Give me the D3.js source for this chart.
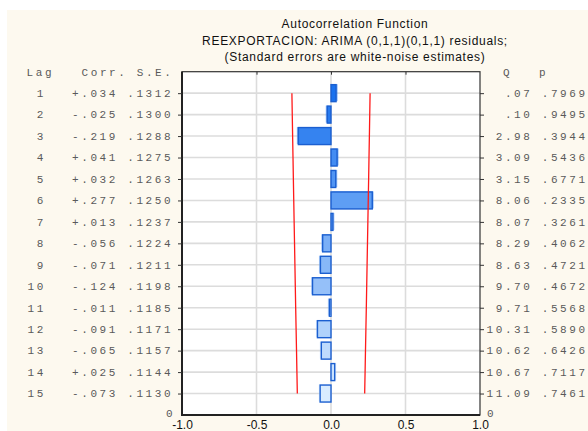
<!DOCTYPE html>
<html>
<head>
<meta charset="utf-8">
<script src="https://cdn.jsdelivr.net/npm/d3@7"></script>
<style>
  body { margin: 0; background: #fff; }
  svg text { white-space: pre; }
</style>
</head>
<body>
<div id="chart"></div>
<script>
// Autocorrelation table
const lags = [1, 2, 3, 4, 5, 6, 7, 8, 9, 10, 11, 12, 13, 14, 15];
const corr = [0.034, -0.025, -0.219, 0.041, 0.032, 0.277, 0.013, -0.056, -0.071, -0.124, -0.011, -0.091, -0.065, 0.025, -0.073];
const stdErr = [0.1312, 0.1300, 0.1288, 0.1275, 0.1263, 0.1250, 0.1237, 0.1224, 0.1211, 0.1198, 0.1185, 0.1171, 0.1157, 0.1144, 0.1130];
const qStat = [0.07, 0.10, 2.98, 3.09, 3.15, 8.06, 8.07, 8.29, 8.63, 9.70, 9.71, 10.31, 10.62, 10.67, 11.09];
const pValue = [0.7969, 0.9495, 0.3944, 0.5436, 0.6771, 0.2335, 0.3261, 0.4062, 0.4721, 0.4672, 0.5568, 0.5890, 0.6426, 0.7117, 0.7461];
const xTicks = [-1.0, -0.5, 0.0, 0.5, 1.0];
const titleLines = [
    "Autocorrelation Function",
    "REEXPORTACION: ARIMA (0,1,1)(0,1,1) residuals;",
    "(Standard errors are white-noise estimates)"
];

const width = 588, height = 431;
const plot = { left: 182, right: 480, top: 71.7, bottom: 415 };

const svg = d3.select("#chart").append("svg")
    .attr("width", width)
    .attr("height", height);

// cream panel
svg.append("rect")
    .attr("x", 7).attr("y", 10)
    .attr("width", width - 7).attr("height", height - 10)
    .attr("fill", "#fdf9ef");

const x = d3.scaleLinear().domain([-1, 1]).range([plot.left, plot.right]);
const y = d3.scaleLinear().domain([0, 16]).range([plot.top, plot.bottom]);
const barColor = d3.scaleLinear().domain([1, 15]).range(["#1a72ee", "#d9ecff"]);

// title
svg.append("g").selectAll("text")
    .data(titleLines)
    .enter().append("text")
    .attr("x", 355)
    .attr("y", (d, i) => 24 + i * 16.3)
    .attr("dy", "0.35em")
    .attr("text-anchor", "middle")
    .attr("font-family", "Liberation Sans, Arial, sans-serif")
    .attr("font-size", 12)
    .attr("letter-spacing", 0.7)
    .attr("fill", "#111")
    .text(d => d);

// plot background
svg.append("rect")
    .attr("x", plot.left).attr("y", plot.top)
    .attr("width", plot.right - plot.left).attr("height", plot.bottom - plot.top)
    .attr("fill", "#fff");

// grid
const grid = svg.append("g").attr("stroke", "#dcdcdc").attr("stroke-width", 1.6);
grid.selectAll(".h").data(lags).enter().append("line")
    .attr("x1", plot.left).attr("x2", plot.right)
    .attr("y1", d => y(d)).attr("y2", d => y(d));
grid.selectAll(".v").data([-0.5, 0, 0.5]).enter().append("line")
    .attr("x1", d => x(d)).attr("x2", d => x(d))
    .attr("y1", plot.top).attr("y2", plot.bottom);

// bars
const rows = lags.map((lag, i) => ({ lag: lag, r: corr[i], se: stdErr[i], q: qStat[i], p: pValue[i] }));
const barH = 17;

svg.append("g").selectAll("rect")
    .data(rows)
    .enter().append("rect")
    .attr("x", d => Math.min(x(0), x(d.r)) + (d.r >= 0 ? 1.5 : -1.5))
    .attr("y", d => y(d.lag) - barH / 2 - 0.5)
    .attr("width", d => Math.max(Math.abs(x(d.r) - x(0)), 1.5))
    .attr("height", barH)
    .attr("fill", d => barColor(d.lag))
    .attr("opacity", 0.55);

svg.append("g").selectAll("rect")
    .data(rows)
    .enter().append("rect")
    .attr("x", d => Math.min(x(0), x(d.r)))
    .attr("y", d => y(d.lag) - barH / 2)
    .attr("width", d => Math.max(Math.abs(x(d.r) - x(0)), 1.5))
    .attr("height", barH)
    .attr("fill", d => barColor(d.lag))
    .attr("stroke", "#1b5fd0")
    .attr("stroke-width", 1.4);

// +/- 2 S.E. limits
const lineUp = d3.line().x(d => x(2 * d.se)).y(d => y(d.lag));
const lineDn = d3.line().x(d => x(-2 * d.se)).y(d => y(d.lag));
[lineUp, lineDn].forEach(l => {
    svg.append("path")
        .datum(rows)
        .attr("d", l)
        .attr("fill", "none")
        .attr("stroke", "#ff1a1a")
        .attr("stroke-width", 1.3);
});

// frame
svg.append("rect")
    .attr("x", plot.left).attr("y", plot.top)
    .attr("width", plot.right - plot.left).attr("height", plot.bottom - plot.top)
    .attr("fill", "none")
    .attr("stroke", "#333")
    .attr("stroke-width", 1.2);
svg.append("path")
    .attr("d", `M${plot.left},${plot.top}V${plot.bottom}H${plot.right}`)
    .attr("fill", "none")
    .attr("stroke", "#222")
    .attr("stroke-width", 2);

// ticks
svg.append("g")
    .attr("transform", `translate(${plot.left},0)`)
    .call(d3.axisLeft(y).tickValues(lags).tickSize(4).tickFormat(""))
    .call(g => g.select(".domain").remove())
    .call(g => g.selectAll("line").attr("stroke", "#333"));
svg.append("g")
    .attr("transform", `translate(${plot.right},0)`)
    .call(d3.axisRight(y).tickValues(lags).tickSize(4).tickFormat(""))
    .call(g => g.select(".domain").remove())
    .call(g => g.selectAll("line").attr("stroke", "#333"));
svg.append("g")
    .attr("transform", `translate(0,${plot.top})`)
    .call(d3.axisBottom(x).tickValues([-0.5, 0, 0.5]).tickSize(3).tickFormat(""))
    .call(g => g.select(".domain").remove())
    .call(g => g.selectAll("line").attr("stroke", "#333"));

// x axis labels
svg.append("g")
    .attr("transform", `translate(0,${plot.bottom})`)
    .call(d3.axisBottom(x).tickValues(xTicks).tickSize(0).tickPadding(5).tickFormat(d3.format(".1f")))
    .call(g => g.select(".domain").remove())
    .call(g => g.selectAll("text")
        .attr("font-family", "Liberation Sans, Arial, sans-serif")
        .attr("font-size", 12)
        .attr("fill", "#111")
        .text(d => d3.format(".1f")(d).replace("−", "-")));

// table text (monospace, letter-spaced)
const mono = { family: "Liberation Mono, Courier New, monospace", size: 11, spacing: 2.6, color: "#5a5a5a" };
function monoText(sel) {
    return sel.attr("font-family", mono.family)
        .attr("font-size", mono.size)
        .attr("letter-spacing", mono.spacing)
        .attr("fill", mono.color)
        .attr("dy", "0.35em");
}
const fmtCorr = v => (v >= 0 ? "+" : "-") + d3.format(".3f")(Math.abs(v)).slice(1);
const fmtSE = v => d3.format(".4f")(v).slice(1);
const fmtQ = v => { const s = d3.format(".2f")(v); return (v < 1 ? s.slice(1) : s).padStart(5, " "); };
const fmtP = v => d3.format(".4f")(v).slice(1);

const table = svg.append("g");
monoText(table.append("text").attr("x", 26.5).attr("y", y(0)).text("Lag"));
monoText(table.append("text").attr("x", 81.5).attr("y", y(0)).text("Corr. S.E."));
monoText(table.append("text").attr("x", 503).attr("y", y(0)).text("Q"));
monoText(table.append("text").attr("x", 539).attr("y", y(0)).text("p"));

monoText(table.selectAll(".lag").data(rows).enter().append("text")
    .attr("x", 27.5).attr("y", d => y(d.lag))
    .text(d => String(d.lag).padStart(2, " ")));
monoText(table.selectAll(".cs").data(rows).enter().append("text")
    .attr("x", 72).attr("y", d => y(d.lag))
    .text(d => fmtCorr(d.r) + " " + fmtSE(d.se)));
monoText(table.selectAll(".qp").data(rows).enter().append("text")
    .attr("x", 486.5).attr("y", d => y(d.lag))
    .text(d => fmtQ(d.q) + " " + fmtP(d.p)));

// "0" labels at the base of the lag axis
monoText(table.append("text").attr("x", 166).attr("y", plot.bottom - 1.5).text("0"));
monoText(table.append("text").attr("x", 487).attr("y", plot.bottom - 1.5).text("0"));
</script>
</body>
</html>
